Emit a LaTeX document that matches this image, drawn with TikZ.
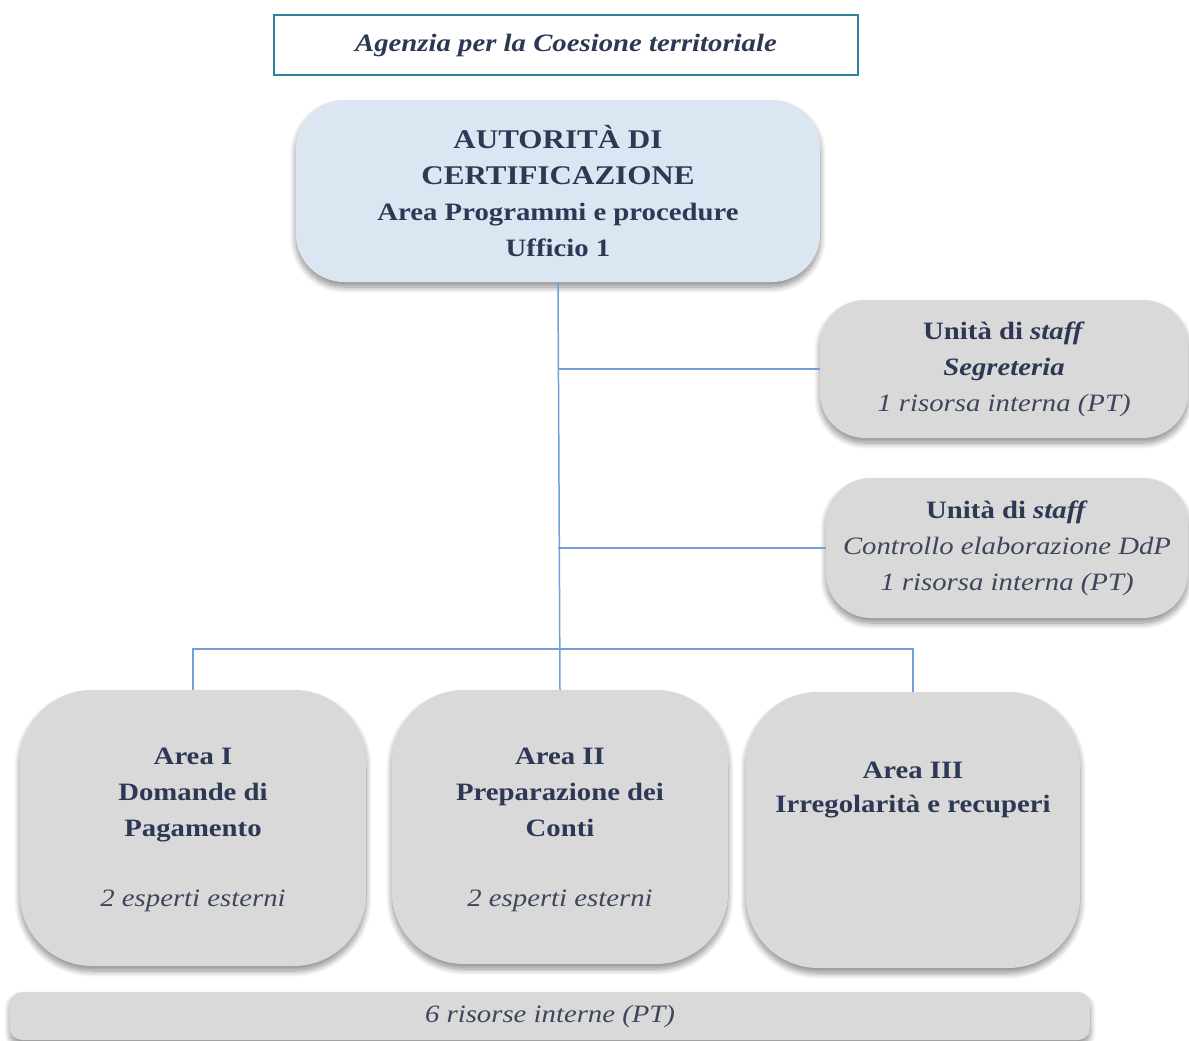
\documentclass[tikz,border=0pt]{standalone}
\usepackage{fontspec}
\setmainfont[FakeStretch=1.15]{Liberation Serif}
\usetikzlibrary{shadows.blur}
\definecolor{ink}{RGB}{44,56,84}
\definecolor{inkit}{RGB}{62,70,92}
\definecolor{linkc}{RGB}{112,160,214}
\definecolor{tealc}{RGB}{49,132,155}
\definecolor{bluefill}{RGB}{220,230,242}
\definecolor{greyfill}{RGB}{217,217,217}

\begin{document}
\begin{tikzpicture}[x=1pt,y=-1pt,
  every node/.style={text=ink, font=\fontsize{25}{36}\selectfont},
  softshadow/.style={blur shadow={shadow xshift=0pt, shadow yshift=-5pt,
      shadow blur radius=6pt, shadow blur steps=10, shadow opacity=45}},
  unitbox/.style={rectangle, rounded corners=#1, align=center, inner sep=0pt,
      fill=greyfill, softshadow},
  unitbox/.default=45pt,
  link/.style={draw=linkc, line width=1.5pt}
]
\useasboundingbox (0,0) rectangle (1189,1041);

% agency header
\node (agency) [rectangle, draw=tealc, line width=2pt, fill=white,
  minimum width=584pt, minimum height=60pt,
  font=\fontsize{25}{36}\selectfont\bfseries\itshape]
  at (566,45) {Agenzia per la Coesione territoriale};

% certifying authority
\node (main) [unitbox=48pt, fill=bluefill, minimum width=524pt, minimum height=182pt,
  font=\fontsize{25}{36}\selectfont\bfseries] at (558,191)
  {{\fontsize{27}{38}\selectfont AUTORITÀ DI}\\
   {\fontsize{27}{38}\selectfont CERTIFICAZIONE}\\
   Area Programmi e procedure\\
   Ufficio 1};

% staff units
\node (staffA) [unitbox, minimum width=368pt, minimum height=138pt,
  font=\fontsize{25}{36}\selectfont\bfseries] at (1004,369)
  {Unità di \textit{staff}\\
   \textit{Segreteria}\\
   {\mdseries\itshape\color{inkit}1 risorsa interna (PT)}};

\node (staffB) [unitbox, minimum width=362pt, minimum height=140pt,
  font=\fontsize{25}{36}\selectfont\bfseries] at (1007,548)
  {Unità di \textit{staff}\\
   {\mdseries\itshape\color{inkit}Controllo elaborazione DdP}\\
   {\mdseries\itshape\color{inkit}1 risorsa interna (PT)}};

% areas
\node (areaA) [unitbox=72pt, minimum width=346pt, minimum height=276pt] at (193,828) {};
\node (areaAtext) [align=center, font=\fontsize{25}{36}\selectfont\bfseries] at (193,830)
  {Area I\\Domande di\\Pagamento\\[34pt]
   {\mdseries\itshape\color{inkit}2 esperti esterni}};

\node (areaB) [unitbox=72pt, minimum width=336pt, minimum height=274pt] at (560,827) {};
\node (areaBtext) [align=center, font=\fontsize{25}{36}\selectfont\bfseries] at (560,830)
  {Area II\\Preparazione dei\\Conti\\[34pt]
   {\mdseries\itshape\color{inkit}2 esperti esterni}};

\node (areaC) [unitbox=72pt, minimum width=334pt, minimum height=276pt] at (913,830) {};
\node (areaCtext) [align=center, font=\fontsize{25}{34}\selectfont\bfseries] at (913,790)
  {Area III\\Irregolarità e recuperi};

% shared internal staff
\node (pool) [unitbox=12pt, minimum width=1080pt, minimum height=48pt,
  font=\fontsize{25}{36}\selectfont\itshape] at (550,1016)
  {\color{inkit}6 risorse interne (PT)};

% connectors
\coordinate (bus) at (560,649);
\draw[link] (main.south) -- (areaB.north);
\draw[link] (main.south |- staffA.west) -- (staffA.west);
\draw[link] (main.south |- staffB.west) -- (staffB.west);
\draw[link] (areaA.north) |- (bus) -| (areaC.north);
\end{tikzpicture}
\end{document}
